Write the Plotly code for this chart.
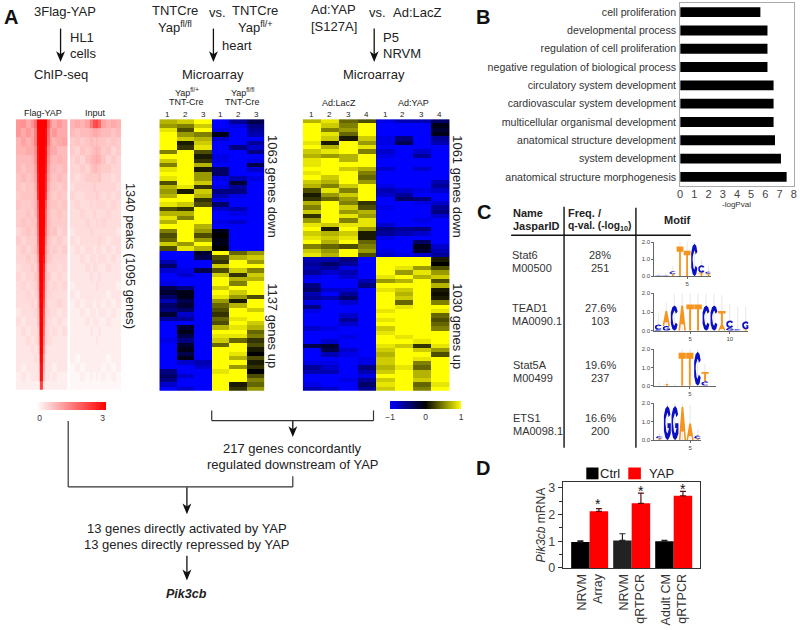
import plotly.graph_objects as go

W, H = 800, 630
FONT = "Liberation Sans"
TXT = "#222222"

# ---------- Panel A: microarray heat maps (rows top to bottom, columns = samples) ----------
HEART_SAMPLES = ["1", "2", "3", "1 ", "2 ", "3 "]
HEART_VALUES = [
 [.7,.8,1,-1,-.6,-.3],[.6,.5,.8,-1,-.9,-.5],[.9,.3,1,-.9,-1,-.6],[1,.6,.5,-.1,-1,-.7],[1,.8,.7,-.8,-1,-1],
 [1,.1,.8,-1,-1,-.6],[1,.2,.9,-1,-.5,-.8],[.5,1,.3,-1,-1,-.5],[1,1,.1,-.9,-1,-1],[.8,1,.2,-.9,-1,-.9],
 [.5,1,.7,-1,-1,-.3],[.9,1,.1,-.4,-1,-.8],[1,1,.6,-.4,-1,-1],[.9,1,.6,-.9,-.7,-.9],[.3,1,.8,-1,-.2,-1],
 [.7,.9,.2,-.9,-.6,-1],[.6,.1,.8,-.5,-.5,-1],[.7,1,.7,-.7,-.9,-1],[1,1,.2,-.9,-1,-1],[.9,.8,.3,-.4,-1,-1],
 [.3,.2,1,-.8,-.7,-1],[.7,.7,1,-1,-.9,-1],[.9,.5,1,-1,-1,-1],[.7,1,1,-.9,-.8,-1],[1,1,.7,-1,-1,-1],
 [.5,1,.6,-.1,-1,-1],[.3,1,.3,0,-1,-1],[.4,1,.6,-.1,-1,-1],[.8,.6,1,-.1,-1,-1],[.3,.9,.7,0,-1,-1],
 [-1,-1,-.2,1,.4,.6],[-1,-1,-.3,.3,.7,.8],[-.7,-1,-1,.2,1,.6],[-.4,-1,-1,.8,1,1],[-.8,-.9,-.3,.3,.8,.5],
 [-1,-.8,-1,.8,.2,.8],[-1,-1,-1,1,.7,.7],[-.9,-1,-1,1,.5,1],[-.3,-.5,-1,.8,1,1],[-.2,-.1,-1,1,.8,1],
 [-.4,-.1,-1,.9,.6,.3],[-.7,-.3,-1,.6,.1,1],[-.4,-.2,-1,.4,.7,1],[-.5,-.4,-1,.3,1,.8],[-.2,-.8,-1,.2,1,1],
 [-.6,-.6,-1,.4,.9,1],[-1,-1,-1,.3,1,.8],[-1,-.2,-1,.7,.9,.7],[-1,-.1,-1,1,1,.4],[-1,-.3,-1,.9,.9,.5],
 [-.9,-.5,-1,.8,.4,.2],[-1,-.2,-1,.4,1,.3],[-1,-.1,-1,1,1,.1],[-1,-.3,-1,1,.9,0],[-1,-.1,-1,1,.7,.3],
 [-1,-.8,-.7,1,1,.1],[-1,-1,-.8,1,.6,.2],[-.5,-1,-1,.9,1,0],[-.4,-.8,-1,1,1,.3],[-.5,-1,-1,1,1,.5],
 [-.8,-1,-1,1,.1,.4],[-1,-.8,-1,1,.2,.6],
]
NRVM_SAMPLES = ["1", "2", "3", "4", "1 ", "2 ", "3 ", "4 "]
NRVM_VALUES = [
 [.7,.9,.4,.3,-.9,-.7,-.7,-.4],[1,.8,.5,1,-1,-1,-1,-.1],[1,.5,.6,1,-1,-1,-1,-.2],[1,.9,.4,1,-1,-1,-1,-.1],
 [1,.8,.1,.8,-.9,-.5,-1,-.6],[.9,.1,1,.6,-.9,-.3,-1,-.7],[1,.7,1,.9,-1,-1,-1,-1],[.8,.9,1,.5,-.8,-1,-.8,-1],
 [.7,.6,.7,1,-.9,-1,-.6,-1],[.9,1,.7,1,-1,-1,-1,-1],[.9,1,1,1,-1,-1,-1,-1],[1,1,.8,.7,-.8,-1,-.8,-1],
 [.9,1,1,.5,-1,-1,-1,-1],[1,.8,1,.4,-1,-1,-1,-1],[.8,.7,1,.6,-1,-1,-1,-.7],[.7,.5,.8,1,-.9,-1,-1,-.6],
 [.3,.9,.5,1,-.7,-.8,-.9,-.8],[.1,.6,.8,1,-.8,-.6,-1,-1],[.2,.4,.6,1,-1,-.4,-.5,-1],[.7,1,.5,.2,-1,-1,-.9,-.8],
 [.5,1,.8,.3,-.9,-1,-1,-.6],[.8,1,.6,.7,-1,-1,-1,-.5],[.2,1,.9,.6,-1,-1,-1,-.8],[.6,1,.5,.9,-1,-1,-.9,-1],
 [.9,.8,.9,.9,-.8,-1,-1,-1],[1,.1,1,.6,-.5,-.6,-.5,-1],[.8,.7,.8,.1,-.6,-.7,-.8,-1],[.9,.8,.9,.1,-.9,-1,-1,-1],
 [1,.7,1,.4,-1,-1,-.4,-1],[.5,.4,.3,.5,-1,-1,-.1,-.8],[.8,.6,1,.6,-.9,-1,-.2,-.7],[.9,.7,1,.3,-.8,-.9,-.8,-.6],
 [-.7,-.7,-.5,-1,1,1,1,.1],[-.6,-.4,-.6,-1,1,1,1,0],[-.7,-.6,-.9,-1,1,.9,.6,.3],[-.6,-.8,-.7,-1,1,.6,.9,.6],
 [-.9,-1,-.8,-1,.9,1,.7,.8],[-1,-1,-1,-.7,.6,.7,1,.3],[-.5,-1,-1,-.5,1,1,1,.7],[-.4,-.8,-.8,-1,.9,.8,1,.1],
 [-.7,-1,-.6,-1,1,.7,1,.05],[-.6,-.7,-.4,-1,1,.8,1,.1],[-.9,-1,-.8,-1,1,.4,1,.5],[-.5,-1,-1,-1,1,.9,1,1],
 [-.9,-1,-1,-1,.9,1,1,.9],[-1,-1,-.8,-1,1,1,1,.4],[-1,-1,-.6,-1,.9,1,1,.3],[-1,-1,-.8,-1,1,1,1,.4],
 [-.8,-.9,-1,-1,.8,1,1,.5],[-1,-1,-1,-1,.9,1,1,1],[-1,-1,-.9,-1,1,.9,1,1],[-1,-.8,-1,-1,1,1,.9,1],
 [-.3,-.2,-1,-1,.9,.8,.2,.9],[-1,-.3,-.8,-1,.8,1,.8,.6],[-1,-.7,-.9,-1,.7,1,1,.3],[-1,-1,-1,-.9,.8,1,.9,1],
 [-.9,-.9,-1,-.9,.8,1,.5,1],[-.6,-.8,-1,-.5,.7,.9,.4,1],[-.7,-.7,-1,-.7,.8,1,.7,1],[-1,-1,-1,-.9,1,1,.7,1],
 [-1,-1,-.9,-.6,.8,1,.8,1],[-.9,-1,-1,-.4,.9,1,.4,.9],[-.7,-.8,-1,-.6,.8,1,.5,1],
]

# ---------- Panel A: ChIP-seq read density (non-uniform bins around the peak, kb) ----------
FLAG_BINS = [-5,-4,-3,-2,-1.5,-1,-.6,-.3,0,.3,.6,1,1.5,2,3,4,5]
FLAG_VALUES = [
 [1.2,1.3,1,1.3,1.7,3,3,3,3,3,3,1.9,1.3,1,1.2,1],
 [1.2,1,1.2,1,1.5,2.9,3,3,3,3,2.9,1.7,1,1.2,1,1],
 [.9,1.1,.9,1.1,1.5,2.9,3,3,3,3,2.9,1.6,1.1,.9,1,1.1],
 [.9,.9,1,1,1.3,2.8,3,3,3,3,2.8,1.4,1,1,.8,.8],
 [.8,.8,.8,.9,1.2,2.8,3,3,3,3,2.8,1.3,.9,.8,.9,.8],
 [.8,.7,.8,.8,1.1,2.7,3,3,3,3,2.7,1.2,.8,.8,.7,.8],
 [.7,.8,.7,.8,1,2.6,3,3,3,3,2.6,1.1,.8,.7,.8,.7],
 [.7,.6,.7,.7,.9,2.5,3,3,3,3,2.5,1,.7,.7,.6,.7],
 [.6,.7,.7,.7,.8,2.4,3,3,3,3,2.4,.9,.7,.6,.7,.6],
 [.7,.6,.6,.7,.8,1.9,3,3,3,3,2,.8,.7,.7,.6,.7],
 [.6,.6,.7,.6,.8,1.8,3,3,3,3,1.8,.8,.6,.6,.7,.6],
 [.6,.7,.6,.7,.7,1.7,3,3,3,3,1.7,.8,.7,.6,.6,.6],
 [.5,.6,.7,.6,.7,1.6,3,3,3,3,1.6,.8,.6,.7,.5,.6],
 [.6,.5,.6,.6,.6,1.5,2.9,3,3,2.9,1.4,.7,.6,.5,.6,.5],
 [.5,.6,.5,.6,.7,1.3,2.9,3,3,2.9,1.2,.7,.5,.6,.5,.6],
 [.5,.5,.6,.5,.6,1.1,2.8,3,3,2.8,1.1,.6,.6,.5,.5,.5],
 [.4,.5,.5,.6,.5,.9,2.6,3,3,2.6,.9,.5,.5,.5,.4,.5],
 [.5,.4,.5,.5,.6,.8,2.5,3,3,2.5,.8,.6,.5,.4,.5,.4],
 [.4,.5,.4,.5,.5,.8,2.4,3,3,2.4,.8,.5,.4,.5,.4,.5],
 [.4,.4,.5,.4,.5,.7,2.3,3,3,2.3,.7,.5,.5,.4,.4,.4],
 [.4,.4,.4,.5,.4,.7,2.1,3,3,2.1,.7,.4,.4,.4,.5,.4],
 [.3,.4,.4,.4,.5,.6,1.9,3,3,1.9,.6,.5,.4,.4,.3,.4],
 [.4,.3,.4,.4,.4,.6,1.8,3,3,1.8,.6,.4,.4,.3,.4,.3],
 [.3,.4,.3,.4,.4,.5,1.7,3,3,1.7,.5,.4,.3,.4,.3,.4],
 [.3,.3,.4,.3,.4,.5,1.5,3,3,1.5,.5,.4,.4,.3,.3,.3],
 [.3,.3,.3,.4,.3,.4,1.3,3,3,1.3,.4,.3,.3,.3,.3,.3],
 [.3,.3,.3,.3,.4,.3,1.1,2.9,2.9,1.1,.3,.3,.3,.3,.3,.3],
 [.3,.2,.3,.3,.3,.3,.9,2.8,2.8,.9,.3,.3,.3,.2,.3,.3],
 [.2,.3,.2,.3,.3,.3,.7,2.8,2.8,.7,.3,.3,.2,.3,.2,.2],
 [.2,.2,.2,.2,.2,.2,.3,2.2,2.2,.3,.2,.2,.2,.2,.2,.2],
]
INPUT_BINS = [-5,-4,-3,-2,-1,-.5,0,.5,1,2,3,4,5]
INPUT_VALUES = [
 [.9,1,.9,1.1,1.6,2.1,2.2,1.8,1.1,.9,1,.9],
 [.8,.7,.8,.8,.9,1,1,.9,.8,.8,.7,.8],
 [.6,.7,.6,.7,.8,.7,.8,.7,.7,.6,.7,.6],
 [.6,.5,.7,.6,.7,.8,.9,.8,.6,.7,.5,.6],
 [.5,.6,.5,.7,.8,.9,1,.9,.7,.5,.6,.5],
 [.5,.5,.6,.5,.7,.8,.8,.7,.6,.6,.5,.5],
 [.5,.4,.5,.6,.6,.6,.6,.7,.5,.5,.4,.5],
 [.4,.5,.5,.5,.5,.6,.5,.5,.5,.5,.5,.4],
 [.5,.4,.4,.5,.5,.5,.6,.5,.4,.5,.4,.5],
 [.4,.5,.4,.4,.5,.4,.5,.5,.5,.4,.5,.4],
 [.4,.4,.5,.4,.4,.5,.4,.4,.4,.5,.4,.4],
 [.4,.4,.4,.5,.4,.4,.5,.4,.5,.4,.4,.4],
 [.3,.4,.4,.4,.5,.4,.4,.4,.4,.4,.4,.3],
 [.4,.3,.4,.4,.4,.4,.4,.5,.4,.3,.4,.4],
 [.3,.4,.3,.4,.4,.3,.4,.4,.3,.4,.3,.4],
 [.3,.3,.4,.3,.4,.4,.3,.4,.4,.3,.4,.3],
 [.3,.3,.3,.4,.3,.4,.4,.3,.3,.4,.3,.3],
 [.3,.3,.3,.3,.4,.3,.3,.4,.3,.3,.3,.3],
 [.2,.3,.3,.3,.3,.3,.4,.3,.3,.3,.3,.2],
 [.3,.2,.3,.3,.3,.3,.3,.3,.3,.2,.3,.3],
 [.2,.3,.2,.3,.3,.2,.3,.3,.2,.3,.2,.3],
 [.2,.2,.3,.2,.3,.3,.2,.3,.3,.2,.3,.2],
 [.2,.2,.2,.3,.2,.3,.3,.2,.2,.3,.2,.2],
 [.2,.2,.2,.2,.3,.2,.2,.3,.2,.2,.2,.2],
 [.2,.2,.2,.2,.2,.2,.3,.2,.2,.2,.2,.2],
 [.2,.2,.2,.2,.2,.2,.2,.2,.2,.2,.2,.2],
 [.2,.1,.2,.2,.2,.2,.2,.2,.2,.1,.2,.2],
 [.1,.2,.1,.2,.2,.2,.2,.2,.1,.2,.1,.2],
 [.1,.1,.2,.1,.2,.1,.2,.1,.2,.1,.2,.1],
 [.1,.1,.1,.1,.1,.1,.1,.1,.1,.1,.1,.1],
]

# ---------- Panel B ----------
GO_TERMS = ["cell proliferation", "developmental process", "regulation of cell proliferation",
            "negative regulation of biological process", "circulatory system development",
            "cardiovascular system development", "multicellular organismal development",
            "anatomical structure development", "system development",
            "anatomical structure morphogenesis"]
GO_LOGP = [5.65, 6.15, 6.15, 6.15, 6.58, 6.58, 6.58, 6.68, 7.1, 7.5]

# ---------- Panel C: motif logos, stacks listed bottom to top per position ----------
STAT6 = [[("T",.03),("C",.03)],[("T",.03),("C",.03)],[("T",.12),("C",.18)],[("T",1.75)],[("T",1.5)],[("C",1.9)],[("T",.2),("C",.45)],[("T",.15),("C",.12)]]
TEAD1 = [[("G",.05),("C",.28)],[("G",.25),("A",.8)],[("C",1.35)],[("A",1.35)],[("T",1.4)],[("T",1.4)],[("C",1.35)],[("C",1.35)],[("A",.35),("T",.7)],[("G",.15),("C",.4)],[("C",.08)],[("T",.08),("G",.42)]]
STAT5A = [[("T",.03)],[("T",.1)],[("T",.02)],[("T",1.8)],[("T",1.8)],[("C",1.85)],[("C",.25),("T",.5)]]
ETS1 = [[("T",.1),("C",.12)],[("G",1.85)],[("G",1.85)],[("A",1.8)],[("A",.9)],[("T",.08),("C",.17)]]
STAT6_TOPS = [.2,.2,.6,2,2,2,1,.6]
TEAD1_TOPS = [.9,1.5,2,2,2,2,2,2,1.9,1.4,1.3,1.3]
STAT5A_TOPS = [.2,.3,.1,2,2,2,1.2]
ETS1_TOPS = [.4,2,2,2,1.9,.6]
GLYPHS = {
 "T": [(-.5,1),(.5,1),(.5,.82),(.13,.82),(.13,0),(-.13,0),(-.13,.82),(-.5,.82)],
 "A": [(-.5,0),(-.12,1),(.12,1),(.5,0),(.28,0),(.18,.26),(-.18,.26),(-.28,0)],
 "C": [(.45,.75),(.3,.93),(.05,1),(-.25,.93),(-.45,.72),(-.5,.5),(-.45,.28),(-.25,.07),(.05,0),(.3,.07),(.45,.25),
       (.2,.33),(.12,.24),(.02,.2),(-.12,.26),(-.22,.38),(-.24,.5),(-.22,.62),(-.12,.74),(.02,.8),(.12,.76),(.2,.67)],
 "G": [(.45,.75),(.3,.93),(.05,1),(-.25,.93),(-.45,.72),(-.5,.5),(-.45,.28),(-.25,.07),(.05,0),(.3,.07),(.5,.2),(.5,.5),
       (.05,.5),(.05,.36),(.24,.36),(.12,.24),(.02,.2),(-.12,.26),(-.22,.38),(-.24,.5),(-.22,.62),(-.12,.74),(.02,.8),(.12,.76),(.2,.67)],
}
LETTER_COLORS = {"T": "#f7941d", "A": "#f7941d", "C": "#0b0fc4", "G": "#0b0fc4"}

# ---------- Panel D ----------
ASSAYS = ["NRVM<br>Array", "NRVM<br>qRTPCR", "Adult CM<br>qRTPCR"]
CTRL_VALUES = [0.97, 1.03, 1.0]
CTRL_ERR = [0.04, 0.25, 0.03]
YAP_VALUES = [2.12, 2.42, 2.7]
YAP_ERR = [0.1, 0.38, 0.17]


def px(x):
    return x / W


def py(y):
    return 1 - y / H


fig = go.Figure()
layout_axes = {}


def add_axes(n, x0, x1, y_top, y_bot, **kw):
    xa = dict(domain=[px(x0), px(x1)], anchor=f"y{n}", visible=False)
    ya = dict(domain=[py(y_bot), py(y_top)], anchor=f"x{n}", visible=False)
    xa.update(kw.get("x", {}))
    ya.update(kw.get("y", {}))
    layout_axes[f"xaxis{n}"] = xa
    layout_axes[f"yaxis{n}"] = ya


def rows(v):
    return list(range(len(v)))


# ChIP-seq
add_axes(1, 13, 65, 118, 393, y=dict(autorange="reversed"))
add_axes(2, 67.5, 119, 118, 393, y=dict(autorange="reversed"))
fig.add_trace(go.Heatmap(z=FLAG_VALUES, x=FLAG_BINS, y=rows(FLAG_VALUES), coloraxis="coloraxis",
                         xaxis="x1", yaxis="y1", name="Flag-YAP"))
fig.add_trace(go.Heatmap(z=INPUT_VALUES, x=INPUT_BINS, y=rows(INPUT_VALUES), coloraxis="coloraxis",
                         xaxis="x2", yaxis="y2", name="Input"))

# Microarrays
add_axes(3, 157.5, 263.5, 118, 394, y=dict(autorange="reversed"))
add_axes(4, 302, 450, 118, 394, y=dict(autorange="reversed"))
fig.add_trace(go.Heatmap(z=HEART_VALUES, x=list(range(len(HEART_SAMPLES))), y=rows(HEART_VALUES),
                         coloraxis="coloraxis2", xaxis="x3", yaxis="y3", name="heart"))
fig.add_trace(go.Heatmap(z=NRVM_VALUES, x=list(range(len(NRVM_SAMPLES))), y=rows(NRVM_VALUES),
                         coloraxis="coloraxis2", xaxis="x4", yaxis="y4", name="NRVM"))

# Panel B
add_axes(5, 682.3, 796.7, 0, 186,
         x=dict(visible=True, range=[0, 8], tickvals=list(range(9)), ticks="", showline=True,
                linecolor="#aaaaaa", mirror=True, showgrid=False, zeroline=False, ticklabelstandoff=-2,
                tickfont=dict(size=11, color="#444", family=FONT), tickangle=0),
         y=dict(visible=True, autorange="reversed", type="category", showline=True, linecolor="#aaaaaa", mirror=True,
                ticks="", showgrid=False, tickfont=dict(size=10.6, color="#333", family=FONT), ticklabelstandoff=1))
fig.add_trace(go.Bar(x=GO_LOGP, y=GO_TERMS, orientation="h", marker=dict(color="black", line_width=0),
                     width=0.54, xaxis="x5", yaxis="y5", name="-logPval"))

# Panel C logos
LOGOS = [
    (6, STAT6, STAT6_TOPS, 243, 277.7, 713, 689.3, 7.2, [5]),
    (7, TEAD1, TEAD1_TOPS, 295, 333, 751, 692.3, 8.0, [5, 10]),
    (8, STAT5A, STAT5A_TOPS, 351.7, 389, 718, 692, 7.67, [5]),
    (9, ETS1, ETS1_TOPS, 406.7, 444.3, 703, 692.3, 7.7, [5]),
]
for n, stacks, tops, ytop, ybot, xr, x5, unit, xt in LOGOS:
    xl = 656
    add_axes(n, xl, xr, ytop, ybot,
             x=dict(visible=True, range=[5 - (x5 - xl) / unit, 5 + (xr - x5) / unit], tickvals=xt, ticks="outside",
                    ticklen=2, tickcolor="#666", showline=True, linecolor="#666", linewidth=0.8, showgrid=False,
                    zeroline=False, tickfont=dict(size=6, color="#444", family=FONT), ticklabelstandoff=0),
             y=dict(visible=True, range=[0, 2], tickvals=[0, 1, 2], ticktext=["0.0", "1.0", "2.0"], ticks="outside",
                    ticklen=2, tickcolor="#666", showline=True, linecolor="#666", linewidth=0.8, showgrid=False,
                    zeroline=False, tickfont=dict(size=6, color="#444", family=FONT), ticklabelstandoff=0))
    wx, wy = [], []
    for i, top in enumerate(tops):
        wx += [i + 1, i + 1, None]
        wy += [0, top, None]
    fig.add_trace(go.Scatter(x=wx, y=wy, mode="lines", line=dict(color="#dddddd", width=0.7), xaxis=f"x{n}",
                             yaxis=f"y{n}", hoverinfo="skip"))
    polys = {"#f7941d": ([], []), "#0b0fc4": ([], [])}
    for i, stack in enumerate(stacks):
        base = 0
        for letter, h in stack:
            xs, ys = polys[LETTER_COLORS[letter]]
            pts = GLYPHS[letter]
            xs += [i + 1 + gx * 0.95 for gx, gy in pts] + [i + 1 + pts[0][0] * 0.95, None]
            ys += [base + gy * h for gx, gy in pts] + [base + pts[0][1] * h, None]
            base += h
    for color, (xs, ys) in polys.items():
        fig.add_trace(go.Scatter(x=xs, y=ys, mode="lines", fill="toself", fillcolor=color, line=dict(width=0),
                                 xaxis=f"x{n}", yaxis=f"y{n}", hoverinfo="skip"))

# Panel D
add_axes(10, 564, 702, 486.7, 574,
         x=dict(visible=True, type="category", range=[-0.64, 2.62], ticks="", showline=True, linecolor="#333",
                linewidth=1.2, mirror=True, showgrid=False, tickangle=-90, tickfont=dict(size=12.5, color="#333", family=FONT)),
         y=dict(visible=True, range=[0, 3.22], tickvals=[0, 1, 2, 3], ticks="outside", ticklen=4, tickcolor="#333",
                minor=dict(tickvals=[.5, 1.5, 2.5], ticks="outside", ticklen=2.5, tickcolor="#333"),
                showline=True, linecolor="#333", linewidth=1.2, mirror=True, showgrid=False, zeroline=False,
                tickfont=dict(size=12.5, color="#444", family=FONT)))
fig.add_trace(go.Bar(x=ASSAYS, y=CTRL_VALUES, name="Ctrl", marker=dict(color=["#000000", "#222222", "#000000"], line_width=0),
                     error_y=dict(type="data", array=CTRL_ERR, arrayminus=[0, 0, 0], color="#222", thickness=1.2, width=3),
                     xaxis="x10", yaxis="y10"))
fig.add_trace(go.Bar(x=ASSAYS, y=YAP_VALUES, name="YAP", marker=dict(color="#ff0000", line_width=0),
                     error_y=dict(type="data", array=YAP_ERR, arrayminus=[0, 0, 0], color="#5a1010", thickness=1.2, width=3),
                     xaxis="x10", yaxis="y10"))

ann = []
shapes = []


def T(text, x, y, size=13, anchor="center", angle=0, color=TXT):
    ann.append(dict(text=text, x=px(x), y=py(y), xref="paper", yref="paper", showarrow=False, xanchor=anchor,
                    yanchor="middle", textangle=angle, borderpad=0,
                    font=dict(size=size, color=color, family=FONT)))


def LINE(x0, y0, x1, y1, w=1.2, c="#333"):
    shapes.append(dict(type="line", xref="paper", yref="paper", x0=px(x0), y0=py(y0), x1=px(x1), y1=py(y1),
                       line=dict(color=c, width=w)))


def ARROW(x, y0, y1):
    LINE(x, y0, x, y1 - 5, 1.3, "#111")
    head = [(x, y1), (x - 4.5, y1 - 11), (x, y1 - 8), (x + 4.5, y1 - 11)]
    path = "M" + " L".join(f"{px(a):.5f},{py(b):.5f}" for a, b in head) + " Z"
    shapes.append(dict(type="path", xref="paper", yref="paper", path=path, fillcolor="#111", line_width=0))


for letter, lx, ly in [("A", 8, 14), ("B", 484, 14), ("C", 485, 212), ("D", 483.5, 473)]:
    T(f"<b>{letter}</b>", lx, ly, 20, color="#111")

# Workflow headers
T("3Flag-YAP", 62, 9); ARROW(58, 26, 60); T("HL1", 66, 35, anchor="left"); T("cells", 66, 51, anchor="left")
T("ChIP-seq", 58, 73)
T("TNTCre", 173.5, 8); T("Yap<sup>fl/fl</sup>", 173.5, 24); T("vs.", 216, 10); T("TNTCre", 254, 8); T("Yap<sup>fl/+</sup>", 254, 24)
ARROW(212, 26, 60); T("heart", 220, 43, anchor="left"); T("Microarray", 212, 73)
T("Ad:YAP", 333, 7); T("[S127A]", 334, 24); T("vs.", 377, 10); T("Ad:LacZ", 416.7, 10)
ARROW(374, 26, 60); T("P5", 382, 35, anchor="left"); T("NRVM", 382, 51, anchor="left"); T("Microarray", 374, 73)

T("Flag-YAP", 40.5, 112, 9); T("Input", 93.5, 112, 9)
T("Yap<sup>fl/+</sup>", 185, 90, 9); T("TNT-Cre", 185, 101, 9); T("Yap<sup>fl/fl</sup>", 241, 90, 9); T("TNT-Cre", 241, 101, 9)
T("Ad:LacZ", 339, 102, 9); T("Ad:YAP", 414, 102, 9)
for s, x in zip(HEART_SAMPLES, [166, 184, 202, 219.5, 237.5, 255]):
    T(s.strip(), x, 113, 8)
for s, x in zip(NRVM_SAMPLES, [311, 329, 348, 366.5, 385, 403, 422, 440]):
    T(s.strip(), x, 113, 8)

T("1340 peaks (1095 genes)", 128.7, 256.7, 12.9, angle=90)
T("1063 genes down", 271.7, 186.7, 13, angle=90); T("1137 genes up", 271.7, 328, 13, angle=90)
T("1061 genes down", 458, 186.7, 13, angle=90); T("1030 genes up", 458, 328, 13, angle=90)

# Flow
ARROW(292, 424, 441)
T("217 genes concordantly", 292, 453); T("regulated downstream of YAP", 292, 469)
ARROW(185.3, 492, 519.5)
T("13 genes directly activated by YAP", 185, 534.3); T("13 genes directly repressed by YAP", 185, 550)
ARROW(185.3, 561.7, 586.7)
T("<b><i>Pik3cb</i></b>", 185, 601, 12.5)

# Panel B title
T("-logPval", 739, 205, 8, color="#333")

# Panel C table
T("<b>Name</b>", 513, 213, 11, "left"); T("<b>JasparID</b>", 513, 227, 11, "left")
T("<b>Freq. /</b>", 568, 213, 11, "left"); T("<b>q-val. (-log<sub>10</sub>)</b>", 568, 227, 10.3, "left")
T("<b>Motif</b>", 680, 221, 11)
for name, jid, y1, y2, x0 in [("Stat6", "M00500", 256, 269, 512), ("TEAD1", "MA0090.1", 310, 323, 512),
                              ("Stat5A", "M00499", 368, 381, 513), ("ETS1", "MA0098.1", 422, 435, 513)]:
    T(name, x0, y1, 11, "left", color="#333"); T(jid, x0, y2, 11, "left", color="#333")
for a, b, y1, y2 in [("28%", "251", 256, 269), ("27.6%", "103", 310, 323), ("19.6%", "237", 368, 381), ("16.6%", "200", 422, 435)]:
    T(a, 602, y1, 11, color="#333"); T(b, 602, y2, 11, color="#333")

# Panel D
T("Ctrl", 601, 478, 13, "left"); T("YAP", 650, 478, 13, "left")
T("<i>Pik3cb</i> mRNA", 542, 530, 12, angle=-90, color="#333")
for x, y in [(599.7, 509), (642.7, 496), (684.7, 494)]:
    T("*", x, y, 14, color="#111")

# Bracket and connectors
LINE(210.3, 414, 210.3, 424.3); LINE(210.3, 424.3, 373.3, 424.3); LINE(373.3, 414, 373.3, 424.3)
LINE(65.7, 424.7, 65.7, 491.7); LINE(65.7, 491.7, 292, 491.7); LINE(292, 491.7, 292, 481)
# Table rules
LINE(565.3, 207, 565.3, 452, 1.4, "#111"); LINE(637.7, 208, 637.7, 452, 1.4, "#111"); LINE(512, 236, 693, 236, 1.4, "#111")
# Legend swatches of panel D
shapes.append(dict(type="rect", xref="paper", yref="paper", x0=px(587.7), x1=px(600), y0=py(484), y1=py(472),
                   fillcolor="#000", line_width=0))
shapes.append(dict(type="rect", xref="paper", yref="paper", x0=px(630), x1=px(642.7), y0=py(484), y1=py(472),
                   fillcolor="#ff0000", line_width=0))

fig.update_layout(
    width=W, height=H, margin=dict(l=0, r=0, t=0, b=0), paper_bgcolor="white", plot_bgcolor="white",
    showlegend=False, barmode="group", bargap=0.12, bargroupgap=0, annotations=ann, shapes=shapes,
    font=dict(family=FONT, color=TXT),
    coloraxis=dict(colorscale=[[0, "#ffffff"], [1, "#ff0000"]], cmin=0, cmax=3,
                   colorbar=dict(orientation="h", x=px(33), xanchor="left", y=py(405), yanchor="top", len=71 / W,
                                 thickness=8, xpad=0, ypad=0, outlinewidth=0, ticks="", tickvals=[.17, 2.87],
                                 ticktext=["0", "3"], tickfont=dict(size=8.5, color="#333", family=FONT))),
    coloraxis2=dict(colorscale=[[0, "#0000ff"], [.5, "#000000"], [1, "#ffff00"]], cmin=-1, cmax=1,
                    colorbar=dict(orientation="h", x=px(390), xanchor="left", y=py(404), yanchor="top", len=71.7 / W,
                                  thickness=7.5, xpad=0, ypad=0, outlinewidth=0, ticks="", tickvals=[-1, 0, 1],
                                  tickfont=dict(size=8.5, color="#333", family=FONT))),
    **layout_axes,
)
fig.write_html("out.html", config=dict(displayModeBar=False),
               post_script="document.body.style.margin='0';document.documentElement.style.overflow='hidden';")
